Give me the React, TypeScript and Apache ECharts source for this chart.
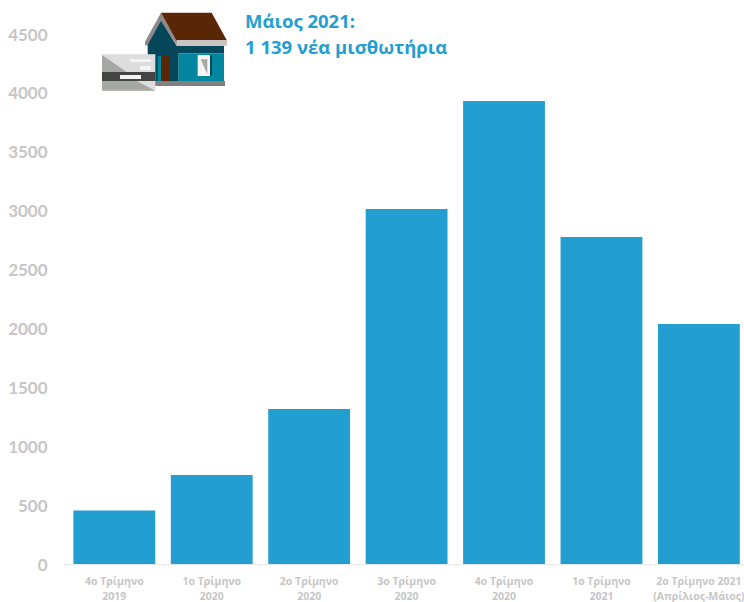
import React, { useEffect, useRef } from "react";
import * as echarts from "echarts";

const categories = [
  "4ο Τρίμηνο\n2019",
  "1ο Τρίμηνο\n2020",
  "2ο Τρίμηνο\n2020",
  "3ο Τρίμηνο\n2020",
  "4ο Τρίμηνο\n2020",
  "1ο Τρίμηνο\n2021",
  "2ο Τρίμηνο 2021\n(Απρίλιος-Μάιος)",
];
const values = [455, 756, 1316, 3014, 3931, 2776, 2038];
const titleLines = ["Μάιος 2021:", "1 139 νέα μισθωτήρια"];

const BLUE = "#239ed0";
const GREY = "#c6c6c6";

const poly = (pts: number[][], fill: string) => ({
  type: "polygon",
  silent: true,
  shape: { points: pts.map(([x, y]) => [90 + x / 3, y / 3]) },
  style: { fill },
});
const box = (x0: number, y0: number, x1: number, y1: number, fill: string) =>
  poly([[x0, y0], [x1, y0], [x1, y1], [x0, y1]], fill);

const logo = [
  poly([[213, 38], [165, 125], [165, 136], [175, 136], [213, 64], [262, 138], [262, 122]], "#8e8a8a"),
  poly([[213, 62], [173, 135], [173, 245], [266, 245], [266, 160], [402, 160], [402, 137], [260, 137]], "#05465a"),
  poly([[213, 38], [365, 38], [410, 120], [260, 122]], "#5a2706"),
  box(260, 120, 411, 138, "#c9c3c1"),
  box(266, 160, 402, 243, "#00879f"),
  box(203, 168, 213, 243, "#00879f"),
  box(213, 168, 240, 243, "#5a2706"),
  box(360, 165, 366, 226, "#05465a"),
  box(323, 165, 360, 228, "#f4f4f4"),
  poly([[332, 178], [352, 178], [352, 222]], "#a6a8a6"),
  box(195, 243, 405, 258, "#808080"),
  box(36, 163, 196, 272, "#dddddd"),
  poly([[36, 165], [110, 216], [36, 216]], "#a6a8a6"),
  poly([[36, 243], [140, 243], [196, 272], [36, 272]], "#a6a8a6"),
  box(36, 216, 196, 243, "#444444"),
  box(120, 178, 183, 186, "#f4f4f4"),
  box(150, 198, 183, 210, "#f4f4f4"),
  box(90, 225, 153, 237, "#f4f4f4"),
];

export default function App() {
  const ref = useRef<HTMLDivElement>(null);
  useEffect(() => {
    document.body.style.margin = "0";
    const chart = echarts.init(ref.current!, null, { renderer: "svg" });
    chart.setOption({
      animation: false,
      backgroundColor: "#ffffff",
      grid: { left: 65.6, top: 34, width: 682, height: 530, containLabel: false, outerBoundsMode: "none" },
      xAxis: {
        type: "category",
        data: categories,
        axisLine: { lineStyle: { color: "#e6e6e6", width: 1 } },
        axisTick: { show: true, length: 3, alignWithLabel: false, lineStyle: { color: "#e6e6e6" } },
        axisLabel: {
          interval: 0,
          color: GREY,
          fontFamily: "'Open Sans'",
          fontWeight: "bold",
          fontSize: 10.5,
          lineHeight: 15,
          margin: 9,
        },
      },
      yAxis: {
        type: "value",
        min: 0,
        max: 4500,
        interval: 500,
        axisLine: { show: false },
        axisTick: { show: false },
        splitLine: { show: false },
        axisLabel: {
          color: GREY,
          fontFamily: "'Lato'",
          fontWeight: "bold",
          fontSize: 17,
          margin: 18,
          formatter: (v: number) => String(v),
        },
      },
      series: [
        {
          type: "bar",
          data: values,
          barWidth: "84%",
          itemStyle: { color: BLUE },
          silent: true,
        },
      ],
      graphic: [
        ...logo,
        ...titleLines.map((text, i) => ({
          type: "text",
          x: 245,
          y: 20 + i * 26,
          silent: true,
          style: {
            text,
            fill: BLUE,
            font: "bold 18.5px 'Open Sans'",
            verticalAlign: "middle",
          },
        })),
      ],
    });
    return () => chart.dispose();
  }, []);
  return <div ref={ref} style={{ width: 744, height: 602, overflow: "hidden" }} />;
}
